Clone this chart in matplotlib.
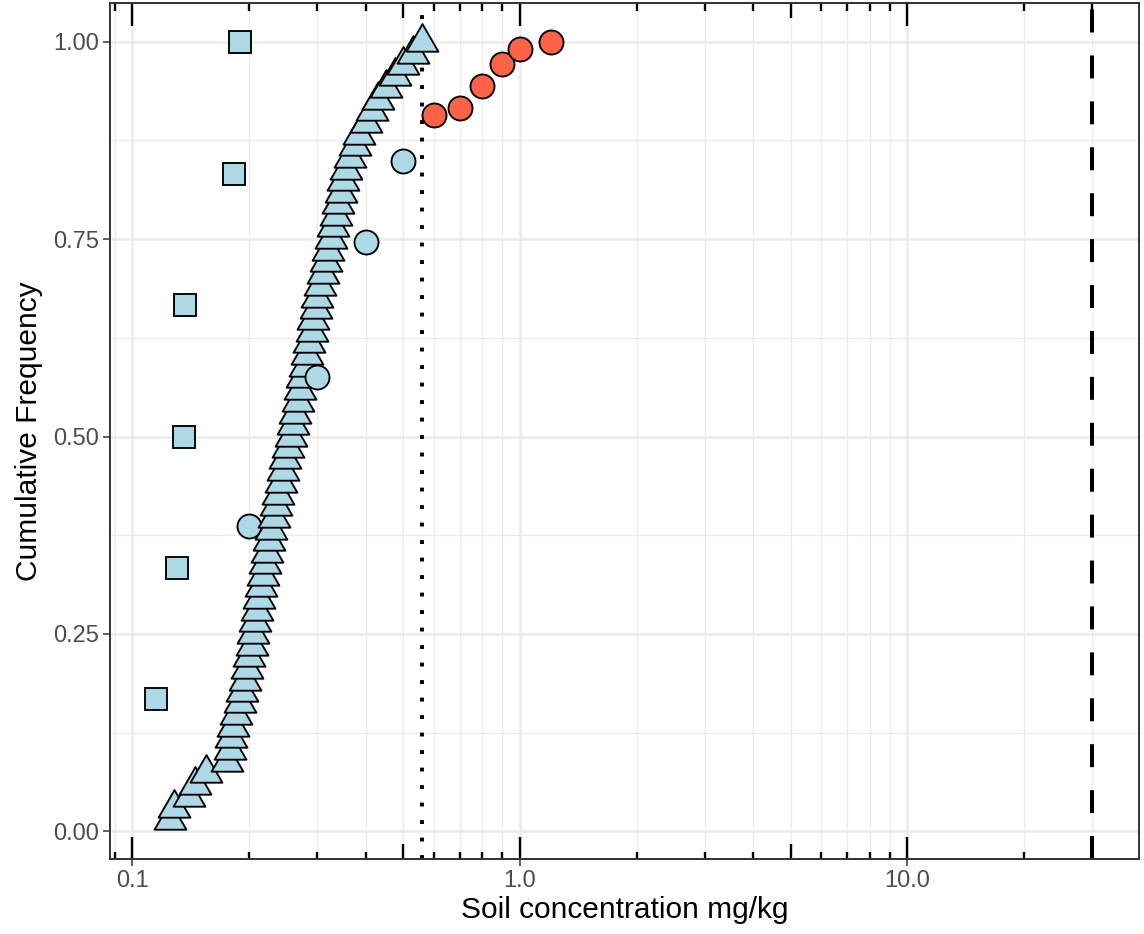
import numpy as np
import matplotlib
matplotlib.use("Agg")
import matplotlib.pyplot as plt
from matplotlib.transforms import blended_transform_factory
from matplotlib.path import Path

plt.rcParams['font.family'] = ['Liberation Sans', 'DejaVu Sans']

# ---- data ----
square_x = [0.115, 0.130, 0.136, 0.137, 0.183, 0.190]
square_y = [0.167, 0.333, 0.500, 0.667, 0.833, 1.000]

circle_x = [0.2, 0.3, 0.4, 0.5, 0.6, 0.7, 0.8, 0.9, 1.0, 1.2]
circle_y = [0.387, 0.576, 0.746, 0.849, 0.907, 0.916, 0.944, 0.972, 0.991, 1.000]
circle_fill = ['lightblue'] * 4 + ['tomato'] * 6

triangle_x = [0.125, 0.128, 0.140, 0.145, 0.155, 0.175, 0.178, 0.180, 0.182, 0.185,
              0.190, 0.192, 0.195, 0.198, 0.200, 0.203, 0.205, 0.207, 0.210, 0.212,
              0.215, 0.217, 0.220, 0.222, 0.225, 0.228, 0.232, 0.235, 0.238, 0.242,
              0.245, 0.248, 0.252, 0.256, 0.260, 0.263, 0.267, 0.270, 0.274, 0.278,
              0.282, 0.285, 0.290, 0.293, 0.298, 0.300, 0.305, 0.310, 0.315, 0.320,
              0.326, 0.330, 0.335, 0.340, 0.345, 0.350, 0.356, 0.365, 0.375, 0.385,
              0.400, 0.415, 0.430, 0.450, 0.475, 0.500, 0.530, 0.560]
triangle_y = [0.015, 0.029, 0.044, 0.059, 0.074, 0.088, 0.103, 0.118, 0.132, 0.147,
              0.162, 0.176, 0.191, 0.206, 0.221, 0.235, 0.250, 0.265, 0.279, 0.294,
              0.309, 0.324, 0.338, 0.353, 0.368, 0.382, 0.397, 0.412, 0.426, 0.441,
              0.456, 0.471, 0.485, 0.500, 0.515, 0.529, 0.544, 0.559, 0.574, 0.588,
              0.603, 0.618, 0.632, 0.647, 0.662, 0.676, 0.691, 0.706, 0.721, 0.735,
              0.750, 0.765, 0.779, 0.794, 0.809, 0.824, 0.838, 0.853, 0.868, 0.882,
              0.897, 0.912, 0.926, 0.941, 0.956, 0.971, 0.985, 1.000]

dotted_x = 0.56
dashed_x = 30.0

x_breaks = [0.1, 1.0, 10.0]
x_labels = ['0.1', '1.0', '10.0']
y_breaks = [0.0, 0.25, 0.5, 0.75, 1.0]
y_labels = ['0.00', '0.25', '0.50', '0.75', '1.00']
y_minor = [0.125, 0.375, 0.625, 0.875]

# ---- figure ----
W, H, DPI = 1144, 934, 100
fig = plt.figure(figsize=(W / DPI, H / DPI), dpi=DPI)
ax_l, ax_r, ax_t, ax_b = 110, 1139, 3, 859
ax = fig.add_axes([ax_l / W, (H - ax_b) / H, (ax_r - ax_l) / W, (ax_b - ax_t) / H])
ax.set_xscale('log')
ax.set_xlim(0.0875, 39.6)
ax.set_ylim(-0.035, 1.049)

# grid
grid_col = '#EBEBEB'
minor_x = [k * d for d in (0.01, 0.1, 1.0, 10.0) for k in range(2, 10)]
minor_x = [v for v in minor_x if 0.0875 < v < 39.6]
for v in minor_x:
    ax.axvline(v, color=grid_col, lw=0.9, zorder=0)
for v in x_breaks:
    ax.axvline(v, color=grid_col, lw=1.8, zorder=0)
for v in y_minor:
    ax.axhline(v, color=grid_col, lw=0.9, zorder=0)
for v in y_breaks:
    ax.axhline(v, color=grid_col, lw=1.8, zorder=0)

# log ticks (top & bottom)
trans = blended_transform_factory(ax.transData, ax.transAxes)
ph = ax_b - ax_t
for d in (0.01, 0.1, 1.0, 10.0):
    for k in range(1, 10):
        v = k * d
        if not (0.0875 < v < 39.6):
            continue
        L = 22.5 if k == 1 else (15.0 if k == 5 else 7.5)
        f = L / ph
        ax.plot([v, v], [0, f], color='black', lw=1.7, transform=trans,
                solid_capstyle='butt', zorder=1, clip_on=False)
        ax.plot([v, v], [1 - f, 1], color='black', lw=1.7, transform=trans,
                solid_capstyle='butt', zorder=1, clip_on=False)

# reference lines
ax.axvline(dotted_x, color='black', lw=2.8, linestyle=(0, (1, 3.5)),
           dash_capstyle='butt', zorder=2)
ax.axvline(dashed_x, color='black', lw=2.9, linestyle=(0, (5.7, 5.7)),
           dash_capstyle='butt', zorder=2)

# points, drawn in order of x
tri = Path([(0, 1), (-0.866, -0.5), (0.866, -0.5), (0, 1)],
           [Path.MOVETO, Path.LINETO, Path.LINETO, Path.CLOSEPOLY])
pts = []
for x, y in zip(square_x, square_y):
    pts.append((x, y, 's', 15.5, 'lightblue'))
for x, y, c in zip(circle_x, circle_y, circle_fill):
    pts.append((x, y, 'o', 17.3, c))
for x, y in zip(triangle_x, triangle_y):
    pts.append((x, y, tri, 26.5, 'lightblue'))
pts.sort(key=lambda p: p[0])
for i, (x, y, m, ms, c) in enumerate(pts):
    ax.plot([x], [y], marker=m, ms=ms, mfc=c, mec='black', mew=1.35,
            linestyle='none', zorder=3 + i * 0.001, clip_on=False)

# axes styling
ax.set_xticks(x_breaks)
ax.set_xticklabels(x_labels)
ax.xaxis.set_minor_locator(matplotlib.ticker.NullLocator())
ax.set_yticks(y_breaks)
ax.set_yticklabels(y_labels)
ax.tick_params(axis='both', which='major', length=5, width=1.1, color='#333333',
               labelsize=17, labelcolor='#4D4D4D', pad=3)
for s in ax.spines.values():
    s.set_color('#333333')
    s.set_linewidth(1.4)
    s.set_zorder(5)

ax.set_xlabel('Soil concentration mg/kg', fontsize=21.5, color='black', labelpad=3)
ax.set_ylabel('Cumulative Frequency', fontsize=21.5, color='black', labelpad=7)

fig.savefig('out.png', dpi=DPI)
